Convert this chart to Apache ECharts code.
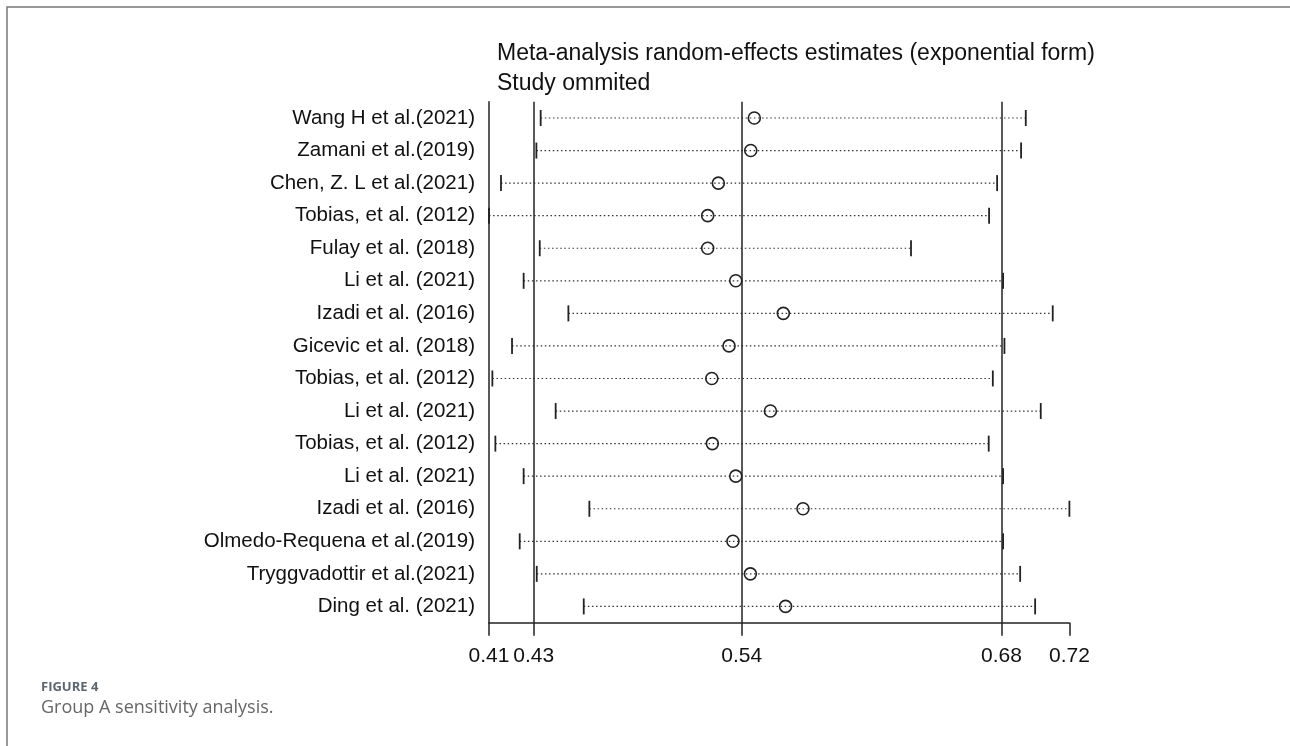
<!DOCTYPE html>
<html>
<head>
<meta charset="utf-8">
<script src="https://cdn.jsdelivr.net/npm/echarts@6/dist/echarts.min.js"></script>
<style>
  html, body { margin: 0; padding: 0; background: #fff; }
  #main { width: 1290px; height: 746px; }
</style>
</head>
<body>
<div id="main"></div>
<script>
// study omitted in each row
var studies = [
    'Wang H et al.(2021)', 'Zamani et al.(2019)', 'Chen, Z. L et al.(2021)',
    'Tobias, et al. (2012)', 'Fulay et al. (2018)', 'Li et al. (2021)',
    'Izadi et al. (2016)', 'Gicevic et al. (2018)', 'Tobias, et al. (2012)',
    'Li et al. (2021)', 'Tobias, et al. (2012)', 'Li et al. (2021)',
    'Izadi et al. (2016)', 'Olmedo-Requena et al.(2019)',
    'Tryggvadottir et al.(2021)', 'Ding et al. (2021)'
];
// estimates
var lower = [0.4366, 0.4343, 0.4154, 0.4090, 0.4361, 0.4275, 0.4514, 0.4213,
             0.4108, 0.4446, 0.4124, 0.4275, 0.4626, 0.4254, 0.4345, 0.4596];
var estimate = [0.5507, 0.5488, 0.5315, 0.5258, 0.5258, 0.5408, 0.5662, 0.5372,
                0.5280, 0.5593, 0.5283, 0.5408, 0.5767, 0.5393, 0.5486, 0.5674];
var upper = [0.6957, 0.6932, 0.6804, 0.6761, 0.6344, 0.6836, 0.7101, 0.6843,
             0.6781, 0.7037, 0.6759, 0.6836, 0.7190, 0.6836, 0.6927, 0.7007];
// overall lower CI, estimate, upper CI
var overall = [0.4329, 0.5440, 0.6827];
var xTicks = [0.409, 0.4329, 0.5440, 0.6827, 0.719];

var myChart = echarts.init(document.getElementById('main'));

var rows = studies.map(function (s, i) {
    return [i, lower[i], estimate[i], upper[i]];
});

function renderRow(params, api) {
    var y = api.value(0);
    var lo = api.coord([api.value(1), y]);
    var mid = api.coord([api.value(2), y]);
    var hi = api.coord([api.value(3), y]);
    var h = 8;
    return {
        type: 'group',
        children: [
            { type: 'line', shape: { x1: lo[0], y1: lo[1], x2: hi[0], y2: hi[1] },
              style: { stroke: '#333', lineWidth: 1.2, lineDash: [1.5, 2.6] } },
            { type: 'line', shape: { x1: lo[0], y1: lo[1] - h, x2: lo[0], y2: lo[1] + h },
              style: { stroke: '#222', lineWidth: 1.8 } },
            { type: 'line', shape: { x1: hi[0], y1: hi[1] - h, x2: hi[0], y2: hi[1] + h },
              style: { stroke: '#222', lineWidth: 1.8 } },
            { type: 'circle', shape: { cx: mid[0], cy: mid[1], r: 6 },
              style: { fill: 'none', stroke: '#222', lineWidth: 1.6 } }
        ]
    };
}

var option = {
    animation: false,
    textStyle: { fontFamily: 'Liberation Sans' },
    title: {
        text: 'Meta-analysis random-effects estimates (exponential form)\nStudy ommited',
        left: 492,
        top: 34,
        textStyle: { fontSize: 23, fontWeight: 'normal', color: '#111', lineHeight: 30, fontFamily: 'Liberation Sans' }
    },
    grid: { left: 489, right: 220.6, top: 101.7, bottom: 123.3 },
    xAxis: {
        type: 'value',
        min: xTicks[0],
        max: xTicks[xTicks.length - 1],
        splitLine: { show: false },
        axisLine: { show: true, onZero: false, lineStyle: { color: '#222', width: 1.5 } },
        axisTick: { show: true, length: 13, customValues: xTicks, lineStyle: { color: '#222', width: 1.5 } },
        axisLabel: {
            customValues: xTicks,
            formatter: function (v) { return v.toFixed(2); },
            fontSize: 21, color: '#111', margin: 23
        }
    },
    yAxis: {
        type: 'category',
        data: studies,
        inverse: true,
        axisLine: { show: true, onZero: false, lineStyle: { color: '#222', width: 1.5 } },
        axisTick: { show: false },
        axisLabel: { fontSize: 20.5, color: '#111', margin: 14 }
    },
    series: [{
        type: 'custom',
        renderItem: renderRow,
        encode: { x: [1, 2, 3], y: 0 },
        data: rows,
        markLine: {
            silent: true,
            symbol: 'none',
            precision: 6,
            label: { show: false },
            lineStyle: { color: '#222', width: 1.5, type: 'solid' },
            data: overall.map(function (v) { return { xAxis: v }; })
        }
    }],
    graphic: [
        { type: 'rect', shape: { x: 7, y: 7, width: 1300, height: 800 },
          style: { fill: 'none', stroke: '#777', lineWidth: 1.5 } },
        { type: 'text', left: 41, top: 681,
          style: { text: 'FIGURE 4', font: 'bold 13px "Open Sans"', fill: '#5b6670' } },
        { type: 'text', left: 41, top: 699,
          style: { text: 'Group A sensitivity analysis.', font: '18px "Open Sans"', fill: '#666' } }
    ]
};
myChart.setOption(option);
</script>
</body>
</html>
